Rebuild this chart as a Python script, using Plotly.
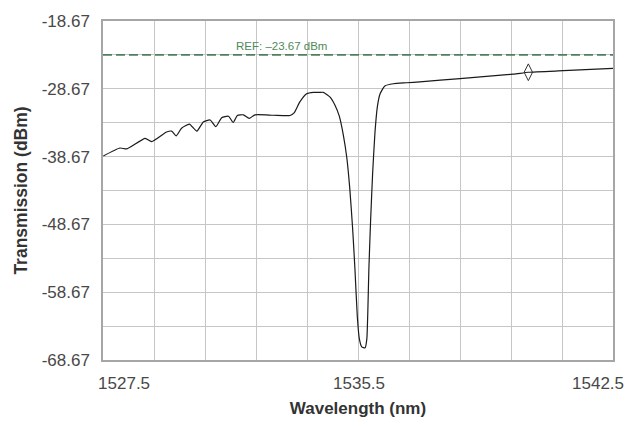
import plotly.graph_objects as go

# ---- data ----
wavelength_nm = [
    1527.51, 1528.00, 1528.20, 1528.74, 1528.93, 1529.37, 1529.52, 1529.65, 1529.81, 1530.04,
    1530.26, 1530.45, 1530.65, 1530.82, 1530.99, 1531.19, 1531.33, 1531.45, 1531.63, 1531.80,
    1531.97, 1532.51, 1533.00, 1533.12, 1533.29, 1533.49, 1533.69, 1533.88, 1533.98, 1534.18,
    1534.32, 1534.45, 1534.57, 1534.67, 1534.76, 1534.84, 1534.91, 1534.98, 1535.04, 1535.11,
    1535.21, 1535.26, 1535.29, 1535.32, 1535.37, 1535.43, 1535.50, 1535.57, 1535.65, 1535.79,
    1536.04, 1536.43, 1536.82, 1538.00, 1539.57, 1540.01, 1541.04, 1542.50,
]
transmission_dbm = [
    -38.57, -37.40, -37.54, -35.99, -36.46, -35.05, -34.91, -35.61, -34.48, -33.88,
    -34.91, -33.55, -33.27, -34.26, -32.93, -32.71, -33.64, -32.61, -32.51, -33.03,
    -32.51, -32.57, -32.61, -32.23, -30.60, -29.41, -29.19, -29.19, -29.19, -29.89,
    -31.06, -32.71, -35.53, -38.81, -43.50, -49.13, -55.24, -62.29, -65.56, -66.73,
    -66.87, -65.56, -61.34, -55.24, -48.20, -41.16, -35.05, -31.30, -29.41, -28.25,
    -27.92, -27.78, -27.64, -27.16, -26.51, -26.23, -26.00, -25.67,
]
marker_wavelength = [1540.01]
marker_dbm = [-26.23]

ref_level = -23.67
ref_label = "REF: \u201323.67 dBm"

y_tick_vals = [-18.67, -28.67, -38.67, -48.67, -58.67, -68.67]
y_tick_text = ["-18.67", "-28.67", "-38.67", "-48.67", "-58.67", "-68.67"]
x_tick_vals = [1528.12, 1535.03, 1542.06]
x_tick_text = ["1527.5", "1535.5", "1542.5"]

x_range = [1527.5, 1542.5]
y_range = [-68.67, -18.67]

FONT = "Liberation Sans, Arial, sans-serif"
GRID = "#c6c6c6"
AXIS = "#a6a6a6"

fig = go.Figure()

# reference level (dashed green)
fig.add_trace(go.Scatter(
    x=x_range, y=[ref_level, ref_level], mode="lines",
    line=dict(color="#4f7f5c", width=1.6, dash="9px,4px"),
    hoverinfo="skip", showlegend=False,
))

fig.add_trace(go.Scatter(
    x=wavelength_nm, y=transmission_dbm, mode="lines",
    line=dict(color="#1a1a1a", width=1.2, shape="spline", smoothing=0.5),
    showlegend=False,
))

fig.add_trace(go.Scatter(
    x=marker_wavelength, y=marker_dbm, mode="markers",
    marker=dict(symbol="diamond-tall-open", size=12, color="#333333",
                line=dict(width=1, color="#333333")),
    showlegend=False,
))

fig.add_annotation(
    x=1532.75, y=ref_level, xref="x", yref="y", text=ref_label,
    showarrow=False, yanchor="bottom", yshift=1,
    font=dict(family=FONT, size=11.5, color="#4f8a57"),
)

fig.update_layout(
    width=638, height=427,
    margin=dict(l=103, r=25, t=17, b=55),
    paper_bgcolor="white", plot_bgcolor="white",
    font=dict(family=FONT, color="#444444"),
)

fig.update_xaxes(
    range=x_range, tickmode="array", tickvals=x_tick_vals, ticktext=x_tick_text,
    showgrid=False, ticks="", ticklabelstandoff=7,
    tickfont=dict(family=FONT, size=17, color="#484848"),
    minor=dict(tick0=1527.5, dtick=1.5, showgrid=True, gridcolor=GRID, gridwidth=1, ticks=""),
    showline=True, linecolor=AXIS, linewidth=1.5, mirror=True, zeroline=False,
    title=dict(text="<b>Wavelength (nm)</b>", standoff=10,
               font=dict(family=FONT, size=17, color="#333333")),
)

fig.update_yaxes(
    range=y_range, tickmode="array", tickvals=y_tick_vals, ticktext=y_tick_text,
    showgrid=True, gridcolor=GRID, gridwidth=1, ticks="", ticklabelstandoff=8,
    tickfont=dict(family=FONT, size=17, color="#484848"),
    minor=dict(tick0=-18.67, dtick=5, showgrid=True, gridcolor=GRID, gridwidth=1, ticks=""),
    showline=True, linecolor=AXIS, linewidth=1.5, mirror=True, zeroline=False,
    title=dict(text="<b>Transmission (dBm)</b>", standoff=10,
               font=dict(family=FONT, size=17.5, color="#333333")),
)

fig.write_html("out.html")
